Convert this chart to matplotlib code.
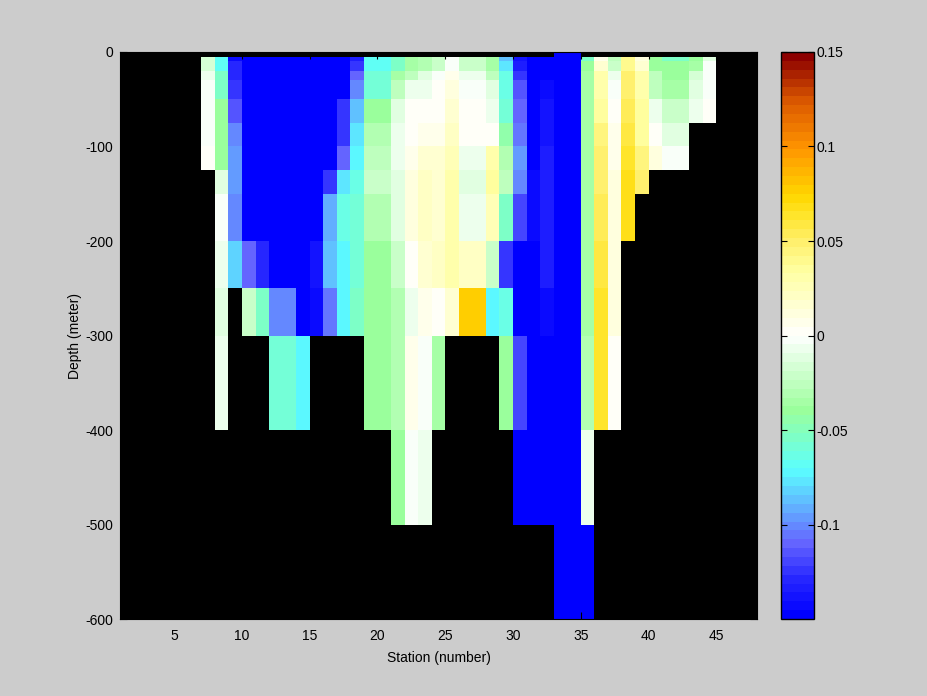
import numpy as np
import matplotlib
matplotlib.use("Agg")
from matplotlib import pyplot as plt
from matplotlib.colors import LinearSegmentedColormap, Normalize

n = np.nan

# station edges (pcolor style, last edge only closes the grid)
station_edges = list(range(1, 49))
# depth edges in meters (row 0 is 0..-5)
depth_edges = [0, -5, -10, -20, -30, -50, -75, -100, -125, -150, -200, -250, -300, -400, -500, -600]

first_station = 7
# one profile per station (from station 7 to 44), 15 depth cells each
profiles = [
    [n, -.016, -.016, -.009, -.004, -.004, -.004, .002, n, n, n, n, n, n, n],                      # 7
    [n, -.066, -.066, -.053, -.052, -.042, -.042, -.042, -.014, -.003, -.007, -.012, -.007, n, n],   # 8
    [n, -.143, -.128, -.128, -.125, -.115, -.102, -.097, -.097, -.1, -.08, n, n, n, n],              # 9
    [n, -.15, -.15, -.15, -.15, -.15, -.15, -.15, -.15, -.15, -.112, -.022, n, n, n],                # 10
    [n, -.15, -.15, -.15, -.15, -.15, -.15, -.15, -.15, -.15, -.13, -.053, n, n, n],                 # 11
    [n, -.15, -.15, -.15, -.15, -.15, -.15, -.15, -.15, -.15, -.15, -.1, -.057, n, n],               # 12
    [n, -.15, -.15, -.15, -.15, -.15, -.15, -.15, -.15, -.15, -.15, -.1, -.057, n, n],               # 13
    [n, -.15, -.15, -.15, -.15, -.15, -.15, -.15, -.15, -.15, -.15, -.15, -.075, n, n],              # 14
    [n, -.15, -.15, -.15, -.15, -.15, -.15, -.15, -.15, -.15, -.137, -.142, n, n, n],                # 15
    [n, -.15, -.15, -.15, -.15, -.15, -.15, -.15, -.122, -.09, -.086, -.106, n, n, n],               # 16
    [n, -.15, -.15, -.15, -.15, -.125, -.122, -.11, -.078, -.063, -.071, -.072, n, n, n],            # 17
    [n, -.133, -.125, -.112, -.1, -.087, -.078, -.072, -.063, -.058, -.058, -.056, n, n, n],         # 18
    [n, -.07, -.07, -.058, -.058, -.041, -.03, -.026, -.023, -.032, -.041, -.041, -.04, n, n],       # 19
    [n, -.07, -.07, -.058, -.058, -.041, -.03, -.026, -.023, -.032, -.041, -.041, -.04, n, n],       # 20
    [n, -.053, -.053, -.033, -.026, -.014, -.007, -.005, -.01, -.01, -.02, -.03, -.03, -.039, n],    # 21
    [n, -.036, -.036, -.024, -.007, .002, .002, .007, .012, .01, .002, -.007, .006, -.002, n],       # 22
    [n, -.032, -.032, -.013, -.007, .002, .007, .018, .02, .02, .018, .006, -.003, -.006, n],        # 23
    [n, -.02, -.02, -.003, .002, .003, .007, .018, .018, .018, .02, .001, -.037, n, n],              # 24
    [n, -.003, -.003, .006, .012, .015, .02, .027, .032, .03, .03, .018, n, n, n],                   # 25
    [n, -.02, -.02, -.008, -.003, .002, .002, -.008, -.01, -.006, .02, .077, n, n, n],               # 26
    [n, -.02, -.02, -.006, -.003, .002, .002, -.007, -.01, -.006, .02, .077, n, n, n],               # 27
    [n, -.036, -.036, -.025, -.012, -.006, .002, .03, .034, .028, -.02, -.072, n, n, n],             # 28
    [n, -.088, -.078, -.064, -.064, -.058, -.046, -.032, -.028, -.052, -.122, -.065, -.04, n, n],    # 29
    [n, -.14, -.135, -.122, -.117, -.112, -.107, -.097, -.102, -.118, -.15, -.15, -.12, -.15, n],   # 30
    [n, -.15, -.15, -.15, -.15, -.15, -.146, -.146, -.145, -.145, -.15, -.15, -.15, -.15, n],       # 31
    [n, -.15, -.15, -.15, -.143, -.138, -.138, -.132, -.132, -.133, -.135, -.143, -.148, -.15, n],  # 32
    [-.15] * 15,                                                                                      # 33
    [-.15] * 15,                                                                                      # 34
    [n, -.053, -.04, -.037, -.037, -.033, -.033, -.033, -.036, -.033, -.036, -.033, -.03, -.007, -.15],  # 35
    [n, .007, .018, .03, .03, .036, .045, .048, .05, .055, .057, .063, .063, n, n],                  # 36
    [n, -.028, -.02, -.008, -.003, .002, .008, .008, .01, .012, .012, .011, .002, n, n],             # 37
    [n, .04, .04, .048, .048, .053, .057, .064, .067, .066, n, n, n, n, n],                          # 38
    [n, .01, .015, .032, .032, .035, .037, .045, .048, n, n, n, n, n, n],                            # 39
    [n, -.04, -.04, -.025, -.025, -.006, .002, .012, n, n, n, n, n, n, n],                           # 40
    [n, -.053, -.04, -.04, -.035, -.022, -.012, -.003, n, n, n, n, n, n, n],                         # 41
    [n, -.053, -.04, -.04, -.035, -.022, -.012, -.003, n, n, n, n, n, n, n],                         # 42
    [n, -.04, -.037, -.016, -.013, -.006, n, n, n, n, n, n, n, n, n],                                # 43
    [n, -.01, -.004, -.002, -.002, .002, n, n, n, n, n, n, n, n, n],                                 # 44
]

# colormap (value, rgb)
cmap_points = [
    (-.15, (0, 0, 255)), (-.13, (40, 40, 255)), (-.112, (100, 100, 255)), (-.1, (100, 145, 255)),
    (-.085, (95, 205, 255)), (-.072, (90, 255, 255)), (-.055, (125, 255, 200)), (-.04, (155, 255, 155)),
    (-.02, (205, 255, 205)), (0, (255, 255, 255)), (.02, (255, 255, 200)), (.035, (255, 255, 160)),
    (.05, (255, 240, 110)), (.065, (255, 228, 40)), (.075, (255, 215, 0)), (.1, (255, 150, 0)),
    (.125, (220, 90, 0)), (.15, (140, 0, 0)),
]

vmin, vmax = -0.15, 0.15
cmap = LinearSegmentedColormap.from_list(
    "anom", [((v - vmin) / (vmax - vmin), tuple(c / 255 for c in rgb)) for v, rgb in cmap_points], N=64)

# build the depth x station grid
grid = np.full((len(depth_edges) - 1, len(station_edges) - 1), np.nan)
for i, prof in enumerate(profiles):
    grid[:, first_station - 1 + i] = prof
grid = np.ma.masked_invalid(grid)

plt.rcParams["font.family"] = ["Liberation Sans", "DejaVu Sans"]
plt.rcParams["axes.unicode_minus"] = False
plt.rcParams["font.size"] = 10

fig = plt.figure(figsize=(9.28, 6.96), dpi=100, facecolor=(0.8, 0.8, 0.8))
ax = fig.add_axes([0.1293, 0.1106, 0.6864, 0.8147])
ax.set_facecolor("black")
mesh = ax.pcolormesh(station_edges, depth_edges, grid, cmap=cmap, norm=Normalize(vmin, vmax))
ax.set_xlim(1, 48)
ax.set_ylim(-600, 0)
ax.set_xticks([5, 10, 15, 20, 25, 30, 35, 40, 45])
ax.set_yticks([0, -100, -200, -300, -400, -500, -600])
ax.tick_params(direction="in", top=True, right=True, length=5, colors="black")
ax.tick_params(axis="x", pad=7)
ax.tick_params(axis="y", pad=5)
ax.set_xlabel("Station (number)", labelpad=6)
ax.set_ylabel("Depth (meter)", labelpad=2)

cax = fig.add_axes([0.8416, 0.1106, 0.0356, 0.8147])
cb = fig.colorbar(mesh, cax=cax, ticks=[-0.1, -0.05, 0, 0.05, 0.1, 0.15])
cb.ax.set_yticklabels(["-0.1", "-0.05", "0", "0.05", "0.1", "0.15"])
cb.ax.tick_params(direction="in", left=True, right=True, length=4, pad=2)
cb.outline.set_linewidth(1.0)

fig.savefig("out.png", dpi=100, facecolor=fig.get_facecolor())
